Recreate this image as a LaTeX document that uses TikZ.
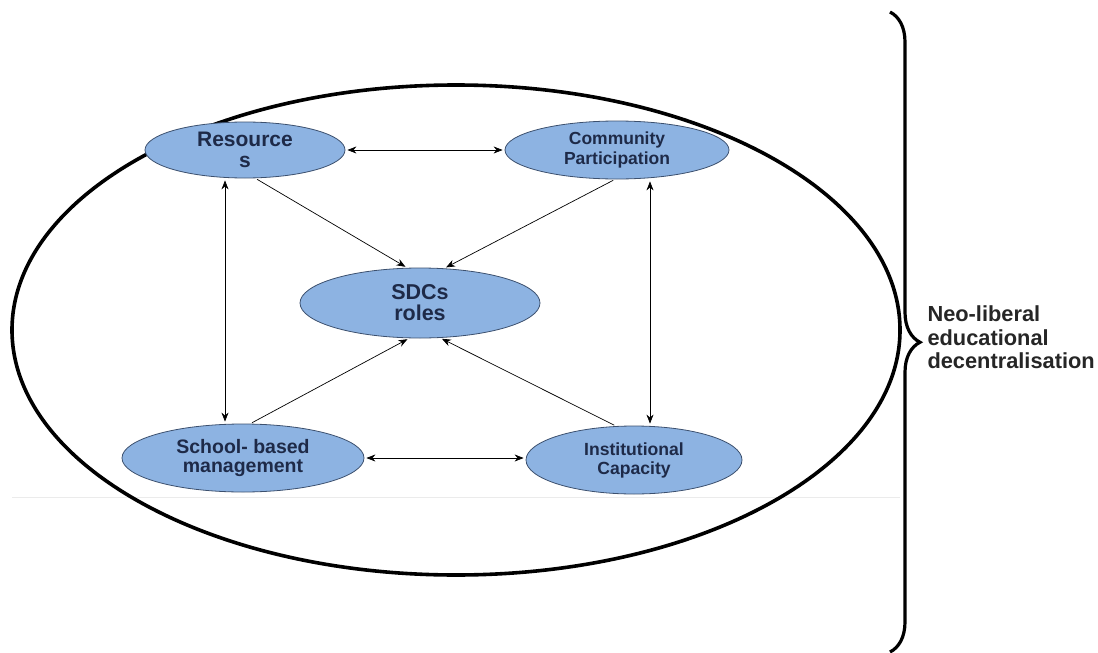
\documentclass[tikz,border=0pt]{standalone}
\usepackage{fontspec}
\setsansfont{Liberation Sans}
\usetikzlibrary{shapes.geometric,arrows.meta,decorations.pathreplacing}
\definecolor{nodeblue}{RGB}{141,179,226}
\definecolor{nodeedge}{RGB}{60,80,110}
\definecolor{nodetext}{RGB}{30,42,72}
\newcommand{\fsz}[2]{\sffamily\bfseries\fontsize{#1}{#2}\selectfont}
\begin{document}
\begin{tikzpicture}[x=1pt,y=-1pt,
  role/.style={ellipse,draw=nodeedge,fill=nodeblue,line width=0.8pt,
    text=nodetext,align=center,inner sep=0pt},
  link/.style={line width=0.7pt,shorten <=2pt,shorten >=2pt,
    -{Stealth[length=9pt,width=7pt]}},
  both/.style={link,{Stealth[length=9pt,width=7pt]}-{Stealth[length=9pt,width=7pt]}}]
\useasboundingbox (0,0) rectangle (1098,653);
% faint page rule
\draw[black!8,line width=0.8pt](12,497)--(900,497);
% outer frame
\draw[line width=3.6pt](456,330) ellipse [x radius=444,y radius=245];
% the five roles
\node[role,minimum width=200pt,minimum height=56pt,font=\fsz{21}{21}] (res) at (245,150)
  {Resource\\s};
\node[role,minimum width=224pt,minimum height=58pt,font=\fsz{17.5}{20}] (comm) at (617,150)
  {Community\\Participation};
\node[role,minimum width=240pt,minimum height=70pt,font=\fsz{21.5}{21}] (sdc) at (420,303)
  {SDCs\\roles};
\node[role,minimum width=242pt,minimum height=68pt,font=\fsz{19.5}{19}] (sbm) at (243,458)
  {School- based\\management};
\node[role,minimum width=216pt,minimum height=68pt,font=\fsz{17.6}{19}] (inst) at (634,460)
  {Institutional\\Capacity};
% two-way links
\draw[both](res.east)--(res.east -| comm.west);
\draw[both]([xshift=-20pt]res.south)--([xshift=-18pt]sbm.north);
\draw[both]([xshift=33pt]comm.south)--([xshift=16pt]inst.north);
\draw[both](sbm.east)--(sbm.east -| inst.west);
% links into the centre
\draw[link](res.290)--(sdc.110);
\draw[link](comm.266)--(sdc.55);
\draw[link](sbm.78)--(sdc.253);
\draw[link](inst.118)--(sdc.300);
% brace and label
\draw[line width=3.2pt,decorate,decoration={brace,amplitude=30pt,aspect=0.516}]
  (890,12)--(890,652) coordinate[pos=0.516] (tip);
\node[anchor=west,align=left,text=black!85,font=\fsz{21.8}{23.5}] (lab)
  at ([xshift=34pt,yshift=5pt]tip) {Neo-liberal\\educational\\decentralisation};
\end{tikzpicture}
\end{document}
